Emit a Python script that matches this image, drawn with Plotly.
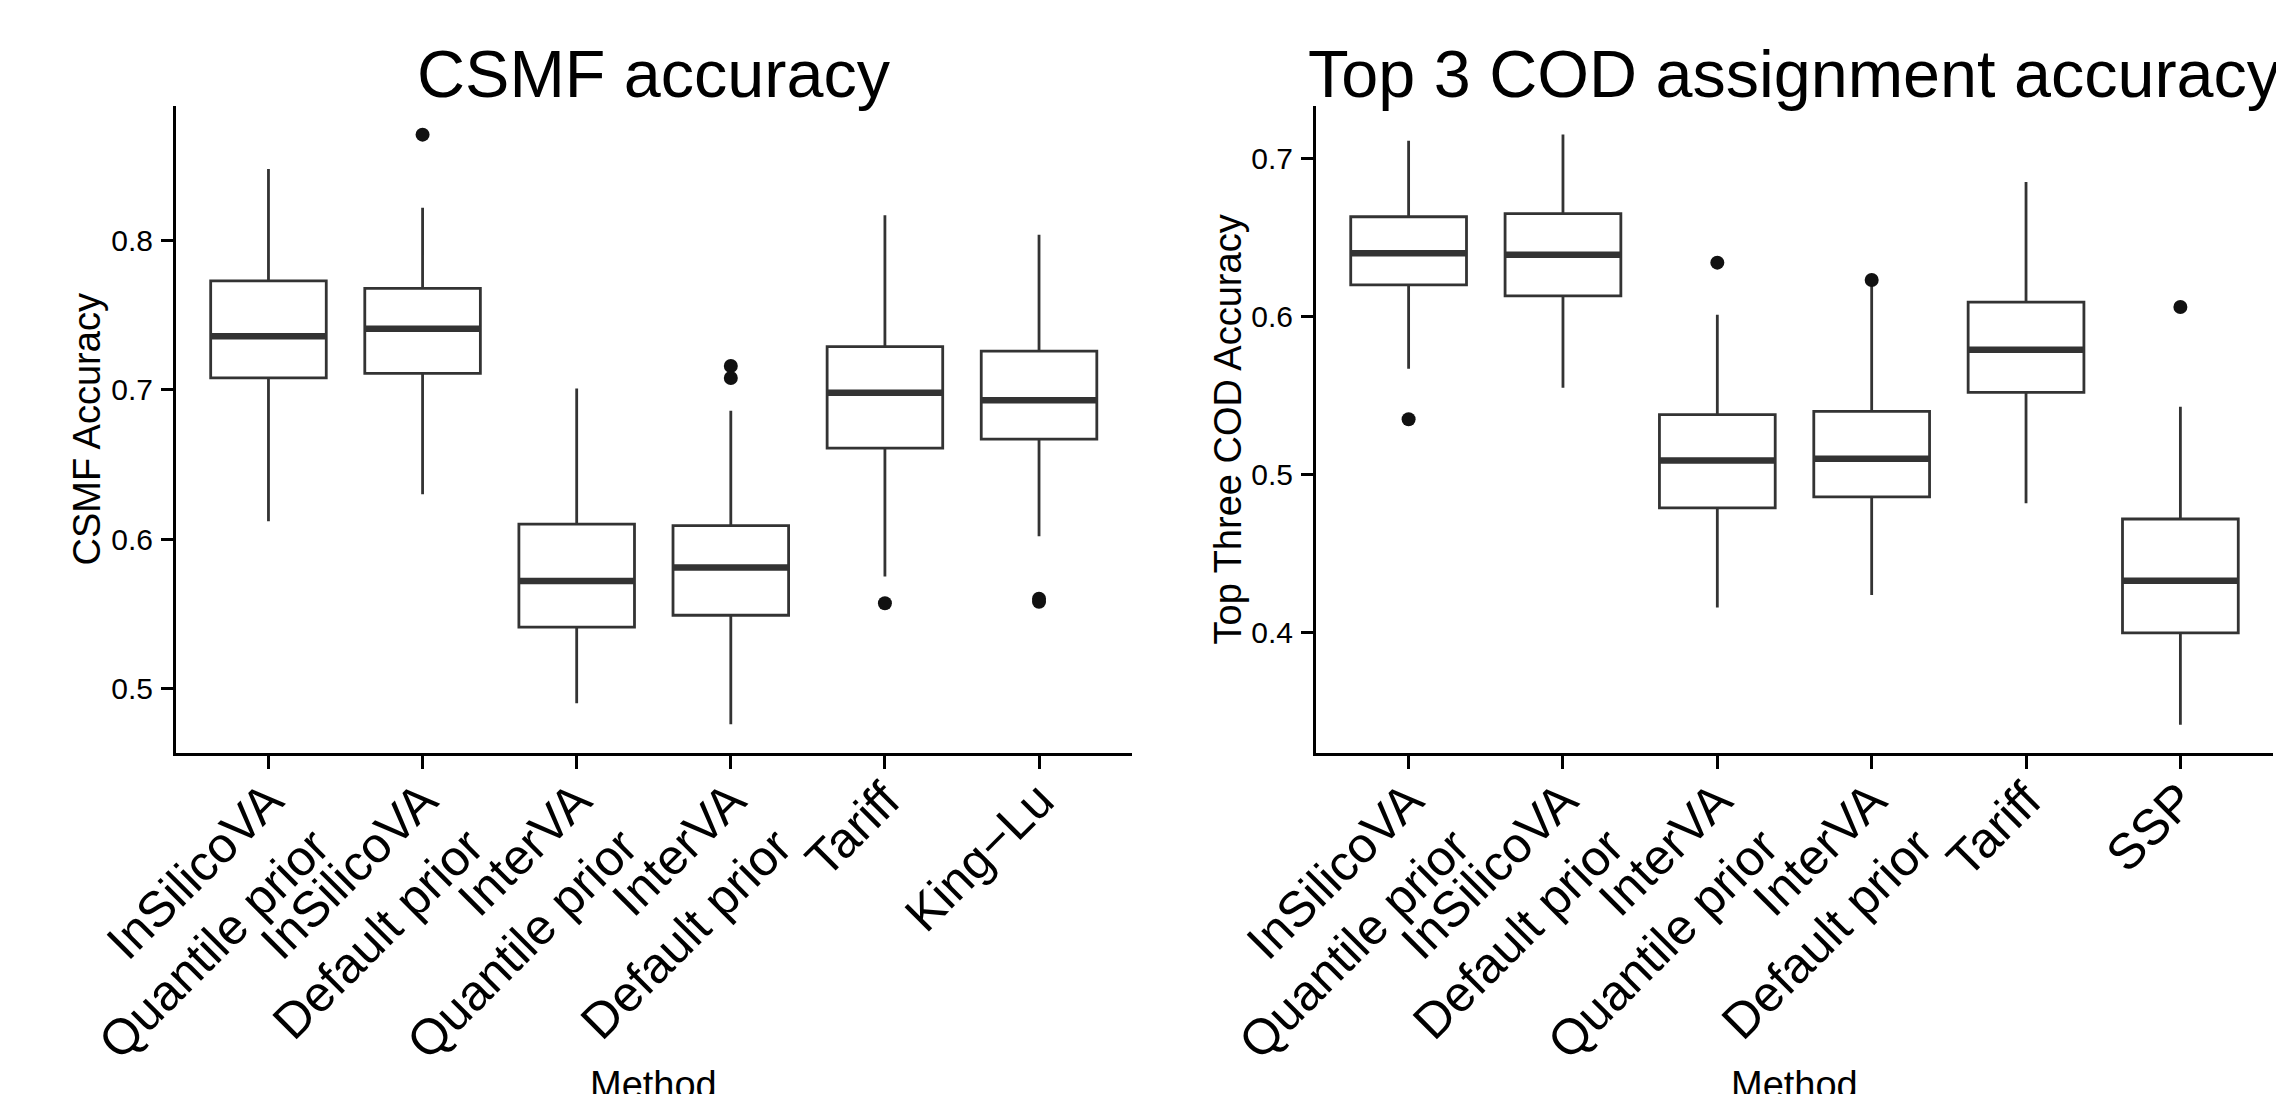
import plotly.graph_objects as go

# ---------------- data ----------------
csmf_methods = ["InSilicoVA<br>Quantile prior", "InSilicoVA<br>Default prior",
                "InterVA<br>Quantile prior", "InterVA<br>Default prior",
                "Tariff", "King\u2212Lu"]
csmf_lower = [0.612, 0.630, 0.490, 0.476, 0.575, 0.602]
csmf_q1 = [0.708, 0.711, 0.541, 0.549, 0.661, 0.667]
csmf_median = [0.736, 0.741, 0.572, 0.581, 0.698, 0.693]
csmf_q3 = [0.773, 0.768, 0.610, 0.609, 0.729, 0.726]
csmf_upper = [0.848, 0.822, 0.701, 0.686, 0.817, 0.804]
csmf_out_method = ["InSilicoVA<br>Default prior", "InterVA<br>Default prior",
                   "InterVA<br>Default prior", "Tariff", "King\u2212Lu", "King\u2212Lu"]
csmf_out_value = [0.871, 0.716, 0.708, 0.557, 0.560, 0.558]
csmf_ticks = [0.5, 0.6, 0.7, 0.8]
csmf_ticktext = ["0.5", "0.6", "0.7", "0.8"]

top3_methods = ["InSilicoVA<br>Quantile prior", "InSilicoVA<br>Default prior",
                "InterVA<br>Quantile prior", "InterVA<br>Default prior",
                "Tariff", "SSP"]
top3_lower = [0.567, 0.555, 0.416, 0.424, 0.482, 0.342]
top3_q1 = [0.620, 0.613, 0.479, 0.486, 0.552, 0.400]
top3_median = [0.640, 0.639, 0.509, 0.510, 0.579, 0.433]
top3_q3 = [0.663, 0.665, 0.538, 0.540, 0.609, 0.472]
top3_upper = [0.711, 0.715, 0.601, 0.620, 0.685, 0.543]
top3_out_method = ["InSilicoVA<br>Quantile prior", "InterVA<br>Quantile prior",
                   "InterVA<br>Default prior", "SSP"]
top3_out_value = [0.535, 0.634, 0.623, 0.606]
top3_ticks = [0.4, 0.5, 0.6, 0.7]
top3_ticktext = ["0.4", "0.5", "0.6", "0.7"]

titles = ["CSMF accuracy", "Top 3 COD assignment accuracy"]
ytitles = ["CSMF Accuracy", "Top Three COD Accuracy"]
xtitle = "Method"

# ---------------- style ----------------
W, H = 2276, 1094
FONT = "Liberation Sans, Arial, Helvetica, sans-serif"
BOXCOL = "#333333"
BOX_LW = 2.8
MED_LW = 6.5

fig = go.Figure()

def add_panel(methods, lo, q1, med, q3, hi, out_m, out_v, xa, ya):
    fig.add_trace(go.Box(
        x=methods, q1=q1, median=med, q3=q3, lowerfence=lo, upperfence=hi,
        boxpoints=False, width=0.75, whiskerwidth=0,
        fillcolor="white", line=dict(color=BOXCOL, width=BOX_LW),
        xaxis=xa, yaxis=ya, showlegend=False, hoverinfo="skip"))
    # thicker median line
    fig.add_trace(go.Box(
        x=methods, q1=med, median=med, q3=med, lowerfence=med, upperfence=med,
        boxpoints=False, width=0.75, whiskerwidth=0,
        fillcolor="rgba(0,0,0,0)", line=dict(color=BOXCOL, width=MED_LW),
        xaxis=xa, yaxis=ya, showlegend=False, hoverinfo="skip"))
    fig.add_trace(go.Scatter(
        x=out_m, y=out_v, mode="markers",
        marker=dict(color="#111111", size=14),
        xaxis=xa, yaxis=ya, showlegend=False, hoverinfo="skip"))

add_panel(csmf_methods, csmf_lower, csmf_q1, csmf_median, csmf_q3, csmf_upper,
          csmf_out_method, csmf_out_value, "x", "y")
add_panel(top3_methods, top3_lower, top3_q1, top3_median, top3_q3, top3_upper,
          top3_out_method, top3_out_value, "x2", "y2")

px = lambda v: v / W
py = lambda v: 1 - v / H

xdom1 = [px(176), px(1131.5)]
xdom2 = [px(1316), px(2273)]
ydom = [py(753), py(106)]

xcommon = dict(type="category", range=[-0.6, 5.6], showline=True, linecolor="black",
               linewidth=3, ticks="outside", ticklen=13, tickwidth=3, tickcolor="black",
               tickangle=-45, ticklabelstandoff=-18,
               tickfont=dict(family=FONT, size=50, color="black"),
               showgrid=False, zeroline=False, fixedrange=True, automargin=False)
ycommon = dict(showline=True, linecolor="black", linewidth=3, ticks="outside",
               ticklen=12, tickwidth=3, tickcolor="black", ticklabelstandoff=2,
               tickfont=dict(family=FONT, size=30, color="black"),
               showgrid=False, zeroline=False, fixedrange=True, domain=ydom,
               automargin=False)

fig.update_layout(
    template="none",
    width=W, height=H, margin=dict(l=0, r=0, t=0, b=0, pad=0),
    paper_bgcolor="white", plot_bgcolor="white", boxmode="overlay",
    font=dict(family=FONT, color="black"),
    xaxis=dict(**xcommon, domain=xdom1, anchor="y",
               categoryorder="array", categoryarray=csmf_methods),
    xaxis2=dict(**xcommon, domain=xdom2, anchor="y2",
                categoryorder="array", categoryarray=top3_methods),
    yaxis=dict(**ycommon, anchor="x", range=[0.4567, 0.8902],
               tickvals=csmf_ticks, ticktext=csmf_ticktext),
    yaxis2=dict(**ycommon, anchor="x2", range=[0.3241, 0.733],
                tickvals=top3_ticks, ticktext=top3_ticktext),
)

centers = [(xdom1[0] + xdom1[1]) / 2, (xdom2[0] + xdom2[1]) / 2]
ann = []
for c, t in zip(centers, titles):
    ann.append(dict(text=t, x=c, y=py(35), xref="paper", yref="paper",
                    xanchor="center", yanchor="top", showarrow=False,
                    font=dict(family=FONT, size=66.5, color="black")))
for xc, t in zip([px(86), px(1227)], ytitles):
    ann.append(dict(text=t, x=xc, y=py(429.5), xref="paper", yref="paper",
                    xanchor="center", yanchor="middle", textangle=-90, showarrow=False,
                    font=dict(family=FONT, size=38, color="black")))
for c in centers:
    ann.append(dict(text=xtitle, x=c, y=py(1062), xref="paper", yref="paper",
                    xanchor="center", yanchor="top", showarrow=False,
                    font=dict(family=FONT, size=38, color="black")))
fig.update_layout(annotations=ann)

fig.write_html("out.html", config={"displayModeBar": False, "staticPlot": True},
               post_script="document.body.style.margin='0';document.body.style.padding='0';")
